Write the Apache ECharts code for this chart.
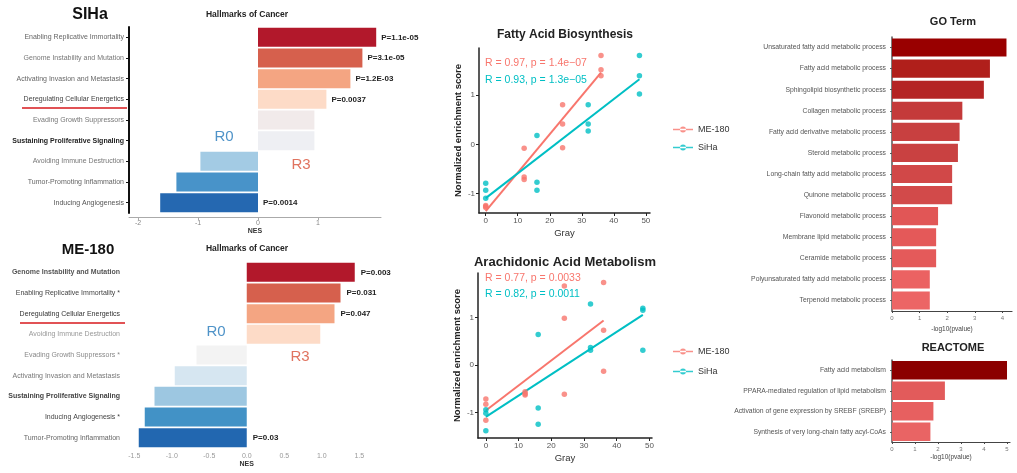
<!DOCTYPE html>
<html><head><meta charset="utf-8">
<script src="https://cdn.jsdelivr.net/npm/echarts@6/dist/echarts.min.js"></script>
<style>html,body{margin:0;padding:0;background:#fff}#c{width:1017px;height:473px}</style>
</head><body><div id="c"></div>
<script>
// ---------- DATA ----------
const sihaCategories = ['Enabling Replicative Immortality','Genome Instability and Mutation','Activating Invasion and Metastasis','Deregulating Cellular Energetics','Evading Growth Suppressors','Sustaining Proliferative Signaling','Avoiding Immune Destruction','Tumor-Promoting Inflammation','Inducing Angiogenesis'];
const sihaNES = [1.97, 1.74, 1.54, 1.14, 0.94, 0.94, -0.96, -1.36, -1.63];
const sihaP = ['P=1.1e-05','P=3.1e-05','P=1.2E-03','P=0.0037','','','','','P=0.0014'];

const meCategories = ['Genome Instability and Mutation','Enabling Replicative Immortality *','Deregulating Cellular Energetics','Avoiding Immune Destruction','Evading Growth Suppressors *','Activating Invasion and Metastasis','Sustaining Proliferative Signaling','Inducing Angiogenesis *','Tumor-Promoting Inflammation'];
const meNES = [1.44, 1.25, 1.17, 0.98, -0.67, -0.96, -1.23, -1.36, -1.44];
const meP = ['P=0.003','P=0.031','P=0.047','','','','','','P=0.03'];

const nesTicksSiha = [-2, -1, 0, 1];
const nesTicksMe = [-1.5, -1, -0.5, 0, 0.5, 1, 1.5];

const fattyMeX = [0,0,0,12,12,12,24,24,24,36,36,36];
const fattyMeY = [-1.26,-1.24,-1.28,-0.08,-0.71,-0.66,0.80,0.41,-0.07,1.80,1.51,1.39];
const fattySiX = [0,0,0,16,16,16,32,32,32,48,48,48];
const fattySiY = [-0.79,-0.93,-1.09,0.18,-0.77,-0.93,0.80,0.41,0.27,1.80,1.39,1.02];
const fattyStats = ['R = 0.97, p = 1.4e\u221207','R = 0.93, p = 1.3e\u221205'];

const arachMeX = [0,0,0,12,12,12,24,24,24,36,36,36];
const arachMeY = [-0.71,-0.82,-1.16,-0.56,-0.63,-0.60,1.66,0.98,-0.61,1.73,0.73,-0.13];
const arachSiX = [0,0,0,16,16,16,32,32,32,48,48,48];
const arachSiY = [-0.94,-1.01,-1.38,0.64,-0.90,-1.24,1.28,0.37,0.31,1.19,1.15,0.31];
const arachStats = ['R = 0.77, p = 0.0033','R = 0.82, p = 0.0011'];

const grayTicks = [0,10,20,30,40,50];
const nesScoreTicks = [-1,0,1];

const goTerms = ['Unsaturated fatty acid metabolic process','Fatty acid metabolic process','Sphingolipid biosynthetic process','Collagen metabolic process','Fatty acid derivative metabolic process','Steroid metabolic process','Long-chain fatty acid metabolic process','Quinone metabolic process','Flavonoid metabolic process','Membrane lipid metabolic process','Ceramide metabolic process','Polyunsaturated fatty acid metabolic process','Terpenoid metabolic process'];
const goValues = [4.15, 3.55, 3.33, 2.55, 2.45, 2.39, 2.18, 2.18, 1.67, 1.60, 1.60, 1.37, 1.37];
const goTicks = [0,1,2,3,4];

const reactomeTerms = ['Fatty acid metabolism','PPARA-mediated regulation of lipid metabolism','Activation of gene expression by SREBF (SREBP)','Synthesis of very long-chain fatty acyl-CoAs'];
const reactomeValues = [5.0, 2.3, 1.8, 1.67];
const reactomeTicks = [0,1,2,3,4,5];

// ---------- STYLES ----------
const sihaColors = ['#b2182b','#d6604d','#f4a582','#fddbc7','#f1eaea','#eeeff3','#a3cbe4','#4893c9','#2568b1'];
const meColors = ['#b2182b','#d6604d','#f4a582','#fddbc7','#f3f3f3','#d6e6f1','#9dc7e1','#4292c6','#2267b0'];
const goColors = ['#990000','#b01f1b','#b42424','#c43a3a','#c84040','#c94141','#d14848','#d24a4a','#e15656','#e45959','#e45a5a','#eb6262','#ec6565'];
const reColors = ['#8b0000','#e25b5b','#e76060','#e96464'];
const labelStylesSiha = ['#666','#777','#666','#444','#777','#222','#777','#666','#555'];
const labelStylesMe = ['#555','#444','#333','#999','#888','#777','#444','#444','#666'];
const RED = '#F8766D', CYAN = '#00BFC4';

function fitLine(xs, ys) {
  const n = xs.length;
  const mx = xs.reduce((a,b)=>a+b,0)/n, my = ys.reduce((a,b)=>a+b,0)/n;
  let sxy = 0, sxx = 0;
  for (let i=0;i<n;i++){ sxy += (xs[i]-mx)*(ys[i]-my); sxx += (xs[i]-mx)*(xs[i]-mx); }
  const b = sxy/sxx, a = my - b*mx;
  const x0 = Math.min(...xs), x1 = Math.max(...xs);
  return [[x0, a+b*x0],[x1, a+b*x1]];
}
const pts = (xs, ys) => xs.map((x,i)=>[x, ys[i]]);

const chart = echarts.init(document.getElementById('c'), null, {renderer:'canvas'});
const legendIcon = 'path://M0,3.6L20,3.6L20,5.0L0,5.0Z M7,4.3A3,3 0 1,0 13,4.3A3,3 0 1,0 7,4.3Z';

function scatterX(grid, min, max) {
  return {gridIndex:grid, type:'value', min:min, max:max,
    axisLine:{show:true, onZero:false, lineStyle:{color:'#222', width:1.5}},
    axisTick:{show:true, customValues:grayTicks, length:3, lineStyle:{color:'#222'}},
    axisLabel:{customValues:grayTicks, fontSize:8, color:'#555', margin:4},
    splitLine:{show:false},
    name:'Gray', nameLocation:'middle', nameGap:15, nameTextStyle:{fontSize:9.5, color:'#333'}};
}
function scatterY(grid, min, max) {
  return {gridIndex:grid, type:'value', min:min, max:max,
    axisLine:{show:true, onZero:false, lineStyle:{color:'#222', width:1.5}},
    axisTick:{show:true, customValues:nesScoreTicks, length:3, lineStyle:{color:'#222'}},
    axisLabel:{customValues:nesScoreTicks, fontSize:8, color:'#555', margin:4},
    splitLine:{show:false},
    name:'Normalized enrichment score', nameLocation:'middle', nameGap:16,
    nameTextStyle:{fontSize:9.5, color:'#222', fontWeight:'bold'}};
}
function scatterSeries(name, grid, xs, ys, color) {
  return [
    {type:'scatter', name:name, xAxisIndex:grid, yAxisIndex:grid, data:pts(xs,ys), symbolSize:5.5, itemStyle:{color:color}, z:3},
    {type:'line', name:name, xAxisIndex:grid, yAxisIndex:grid, data:fitLine(xs,ys), showSymbol:false, lineStyle:{color:color, width:2}, itemStyle:{color:color}, z:2}
  ];
}

const option = {
  animation:false,
  backgroundColor:'#fff',
  grid:[
    {left:129, top:27, width:252, height:186},
    {left:123, top:262, width:247.5, height:186},
    {left:479, top:48, width:171, height:165},
    {left:478, top:273, width:174, height:165},
    {left:892, top:37, width:120, height:274},
    {left:892, top:360, width:118, height:82}
  ],
  xAxis:[
    {gridIndex:0, type:'value', min:-2.15, max:2.05, offset:4,
      axisLine:{show:true, onZero:false, lineStyle:{color:'#aaa'}},
      axisTick:{show:true, customValues:nesTicksSiha, length:3, lineStyle:{color:'#aaa'}},
      axisLabel:{customValues:nesTicksSiha, fontSize:7, color:'#888', margin:3},
      splitLine:{show:false},
      name:'NES', nameLocation:'middle', nameGap:11, nameTextStyle:{fontSize:7, fontWeight:'bold', color:'#333'}},
    {gridIndex:1, type:'value', min:-1.65, max:1.65,
      axisLine:{show:false, onZero:false}, axisTick:{show:false},
      axisLabel:{customValues:nesTicksMe, fontSize:7, color:'#999', margin:5, formatter:v=>v.toFixed(1)},
      splitLine:{show:false},
      name:'NES', nameLocation:'middle', nameGap:13, nameTextStyle:{fontSize:7, fontWeight:'bold', color:'#333'}},
    scatterX(2, -2.1, 51.3),
    scatterX(3, -2.4, 50.8),
    {gridIndex:4, type:'value', min:0, max:4.35,
      axisLine:{show:true, onZero:false, lineStyle:{color:'#444', width:1.2}},
      axisTick:{show:true, customValues:goTicks, length:2, lineStyle:{color:'#444'}},
      axisLabel:{customValues:goTicks, fontSize:6, color:'#777', margin:4},
      splitLine:{show:false},
      name:'-log10(pvalue)', nameLocation:'middle', nameGap:12, nameTextStyle:{fontSize:6.5, color:'#444'}},
    {gridIndex:5, type:'value', min:0, max:5.13,
      axisLine:{show:true, onZero:false, lineStyle:{color:'#444', width:1.2}},
      axisTick:{show:true, customValues:reactomeTicks, length:2, lineStyle:{color:'#444'}},
      axisLabel:{customValues:reactomeTicks, fontSize:6, color:'#777', margin:4},
      splitLine:{show:false},
      name:'-log10(pvalue)', nameLocation:'middle', nameGap:12, nameTextStyle:{fontSize:6.5, color:'#444'}}
  ],
  yAxis:[
    {gridIndex:0, type:'category', inverse:true,
      data:sihaCategories.map((c,i)=>({value:c, textStyle:{color:labelStylesSiha[i], fontWeight: i===5?'bold':'normal'}})),
      axisLine:{show:true, onZero:false, lineStyle:{color:'#111', width:2}},
      axisTick:{show:true, alignWithLabel:true, length:3, lineStyle:{color:'#111'}},
      axisLabel:{fontSize:7, margin:5}},
    {gridIndex:1, type:'category', inverse:true,
      data:meCategories.map((c,i)=>({value:c, textStyle:{color:labelStylesMe[i], fontWeight: (i===0||i===6)?'bold':'normal'}})),
      axisLine:{show:false, onZero:false}, axisTick:{show:false},
      axisLabel:{fontSize:7, margin:3}},
    scatterY(2, -1.39, 1.95),
    scatterY(3, -1.53, 1.93),
    {gridIndex:4, type:'category', inverse:true, data:goTerms,
      axisLine:{show:true, onZero:false, lineStyle:{color:'#555', width:1.5}},
      axisTick:{show:true, alignWithLabel:true, length:2, lineStyle:{color:'#555'}},
      axisLabel:{fontSize:6.8, color:'#555', margin:6}},
    {gridIndex:5, type:'category', inverse:true, data:reactomeTerms,
      axisLine:{show:true, onZero:false, lineStyle:{color:'#555', width:1.5}},
      axisTick:{show:true, alignWithLabel:true, length:2, lineStyle:{color:'#555'}},
      axisLabel:{fontSize:6.8, color:'#555', margin:6}}
  ],
  legend:[
    {left:668, top:120, orient:'vertical', itemWidth:20, itemHeight:8, itemGap:9,
      textStyle:{fontSize:9, color:'#333'},
      data:[{name:'ME-180', icon:legendIcon},{name:'SiHa', icon:legendIcon}], selectedMode:false},
    {left:668, top:342, orient:'vertical', itemWidth:20, itemHeight:8, itemGap:11,
      textStyle:{fontSize:9, color:'#333'},
      data:[{name:'ME-180', icon:legendIcon},{name:'SiHa', icon:legendIcon}], selectedMode:false}
  ],
  series:[
    {type:'bar', xAxisIndex:0, yAxisIndex:0, barCategoryGap:'8%',
      data:sihaNES.map((v,i)=>({value:v, itemStyle:{color:sihaColors[i]}})),
      label:{show:true, position:'right', distance:5, fontSize:8, color:'#222', fontWeight:'bold',
        formatter:p=>sihaP[p.dataIndex]}},
    {type:'bar', xAxisIndex:1, yAxisIndex:1, barCategoryGap:'8%',
      data:meNES.map((v,i)=>({value:v, itemStyle:{color:meColors[i]}})),
      label:{show:true, position:'right', distance:6, fontSize:8, color:'#222', fontWeight:'bold',
        formatter:p=>meP[p.dataIndex]}},
    ...scatterSeries('ME-180', 2, fattyMeX, fattyMeY, RED),
    ...scatterSeries('SiHa', 2, fattySiX, fattySiY, CYAN),
    ...scatterSeries('ME-180', 3, arachMeX, arachMeY, RED),
    ...scatterSeries('SiHa', 3, arachSiX, arachSiY, CYAN),
    {type:'bar', xAxisIndex:4, yAxisIndex:4, barCategoryGap:'14%',
      data:goValues.map((v,i)=>({value:v, itemStyle:{color:goColors[i]}}))},
    {type:'bar', xAxisIndex:5, yAxisIndex:5, barCategoryGap:'10%',
      data:reactomeValues.map((v,i)=>({value:v, itemStyle:{color:reColors[i]}}))}
  ],
  graphic:[
    {type:'text', x:90, y:15, style:{text:'SIHa', font:'bold 16px "Liberation Sans", Arial, sans-serif', fill:'#111', align:'center', verticalAlign:'middle'}},
    {type:'text', x:247, y:15, style:{text:'Hallmarks of Cancer', font:'bold 8.5px "Liberation Sans", Arial, sans-serif', fill:'#222', align:'center', verticalAlign:'middle'}},
    {type:'text', x:88, y:250, style:{text:'ME-180', font:'bold 15px "Liberation Sans", Arial, sans-serif', fill:'#111', align:'center', verticalAlign:'middle'}},
    {type:'text', x:247, y:249, style:{text:'Hallmarks of Cancer', font:'bold 8.5px "Liberation Sans", Arial, sans-serif', fill:'#222', align:'center', verticalAlign:'middle'}},
    {type:'line', shape:{x1:22, y1:108, x2:127, y2:108}, style:{stroke:'#d7191c', lineWidth:1.5}},
    {type:'line', shape:{x1:20, y1:323, x2:125, y2:323}, style:{stroke:'#d7191c', lineWidth:1.5}},
    {type:'text', x:224, y:137, style:{text:'R0', font:'15px "Liberation Sans", Arial, sans-serif', fill:'#4f93c8', align:'center', verticalAlign:'middle'}},
    {type:'text', x:301, y:165, style:{text:'R3', font:'15px "Liberation Sans", Arial, sans-serif', fill:'#e0735f', align:'center', verticalAlign:'middle'}},
    {type:'text', x:216, y:332, style:{text:'R0', font:'15px "Liberation Sans", Arial, sans-serif', fill:'#4f93c8', align:'center', verticalAlign:'middle'}},
    {type:'text', x:300, y:357, style:{text:'R3', font:'15px "Liberation Sans", Arial, sans-serif', fill:'#e0735f', align:'center', verticalAlign:'middle'}},
    {type:'text', x:565, y:35, style:{text:'Fatty Acid Biosynthesis', font:'bold 12px "Liberation Sans", Arial, sans-serif', fill:'#222', align:'center', verticalAlign:'middle'}},
    {type:'text', x:565, y:262, style:{text:'Arachidonic Acid Metabolism', font:'bold 13px "Liberation Sans", Arial, sans-serif', fill:'#222', align:'center', verticalAlign:'middle'}},
    {type:'text', x:485, y:63, style:{text:fattyStats[0], font:'10.5px "Liberation Sans", Arial, sans-serif', fill:RED, align:'left', verticalAlign:'middle'}},
    {type:'text', x:485, y:80, style:{text:fattyStats[1], font:'10.5px "Liberation Sans", Arial, sans-serif', fill:CYAN, align:'left', verticalAlign:'middle'}},
    {type:'text', x:485, y:278, style:{text:arachStats[0], font:'10.5px "Liberation Sans", Arial, sans-serif', fill:RED, align:'left', verticalAlign:'middle'}},
    {type:'text', x:485, y:294, style:{text:arachStats[1], font:'10.5px "Liberation Sans", Arial, sans-serif', fill:CYAN, align:'left', verticalAlign:'middle'}},
    {type:'text', x:953, y:22, style:{text:'GO Term', font:'bold 11px "Liberation Sans", Arial, sans-serif', fill:'#222', align:'center', verticalAlign:'middle'}},
    {type:'text', x:953, y:348, style:{text:'REACTOME', font:'bold 11px "Liberation Sans", Arial, sans-serif', fill:'#222', align:'center', verticalAlign:'middle'}}
  ]
};
chart.setOption(option);
</script>
</body></html>
